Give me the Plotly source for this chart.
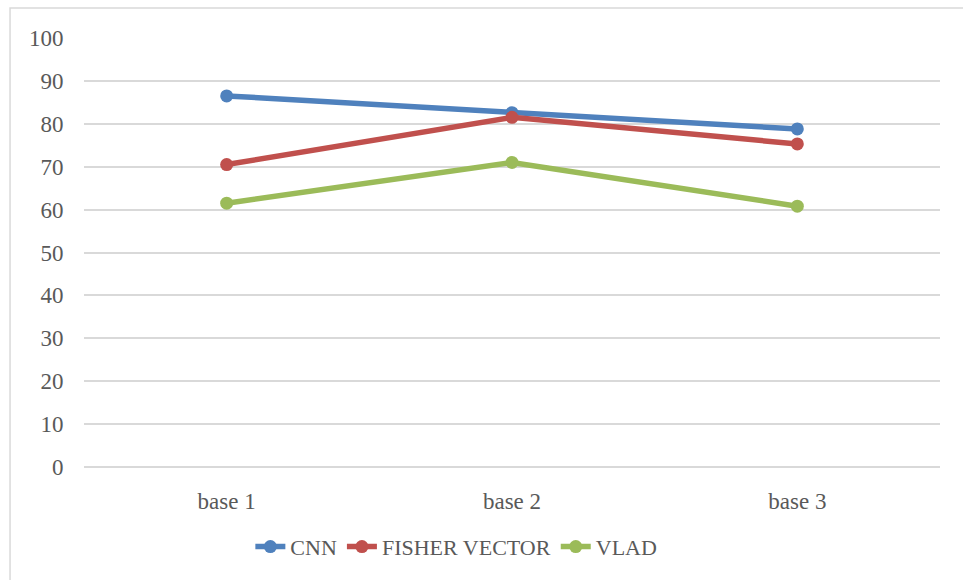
import plotly.graph_objects as go

categories = ["base 1", "base 2", "base 3"]
cnn = [86.5, 82.6, 78.8]
fisher_vector = [70.5, 81.5, 75.3]
vlad = [61.5, 71.0, 60.8]
y_ticks = [0, 10, 20, 30, 40, 50, 60, 70, 80, 90, 100]

series = [
    ("CNN", cnn, "#4F81BD"),
    ("FISHER VECTOR", fisher_vector, "#C0504D"),
    ("VLAD", vlad, "#9BBB59"),
]

fig = go.Figure()
for name, values, color in series:
    fig.add_trace(go.Scatter(
        x=categories, y=values, name=name, mode="lines+markers",
        line=dict(color=color, width=5.5),
        marker=dict(color=color, size=13),
    ))

font_family = '"Liberation Serif", "Times New Roman", Times, serif'
text_color = "#595959"
font_size = 23

fig.update_layout(
    width=963, height=580,
    margin=dict(l=84, r=23, t=38, b=113),
    paper_bgcolor="white", plot_bgcolor="white",
    font=dict(family=font_family, size=font_size, color=text_color),
    showlegend=True,
    legend=dict(orientation="h", x=0.435, xanchor="center", y=-0.186, yanchor="middle",
                font=dict(family=font_family, size=22, color=text_color),
                itemwidth=30, tracegroupgap=0),
    xaxis=dict(range=[-0.5, 2.5], showgrid=False, zeroline=False, showline=False,
               ticks="outside", ticklen=13, tickcolor="rgba(0,0,0,0)",
               tickfont=dict(family=font_family, size=font_size, color=text_color)),
    yaxis=dict(range=[0, 100], tickvals=y_ticks, showgrid=True, gridcolor="#D9D9D9",
               gridwidth=1.5, zeroline=True, zerolinecolor="#D9D9D9", zerolinewidth=1.5,
               showline=False, ticks="outside", ticklen=15, tickcolor="rgba(0,0,0,0)",
               tickfont=dict(family=font_family, size=font_size, color=text_color)),
    shapes=[dict(type="rect", xref="paper", yref="paper",
                 x0=-0.0864, x1=1.05, y0=-0.3, y1=1.0699,
                 line=dict(color="#D9D9D9", width=1.5), layer="below")],
)

fig.write_html("out.html")
